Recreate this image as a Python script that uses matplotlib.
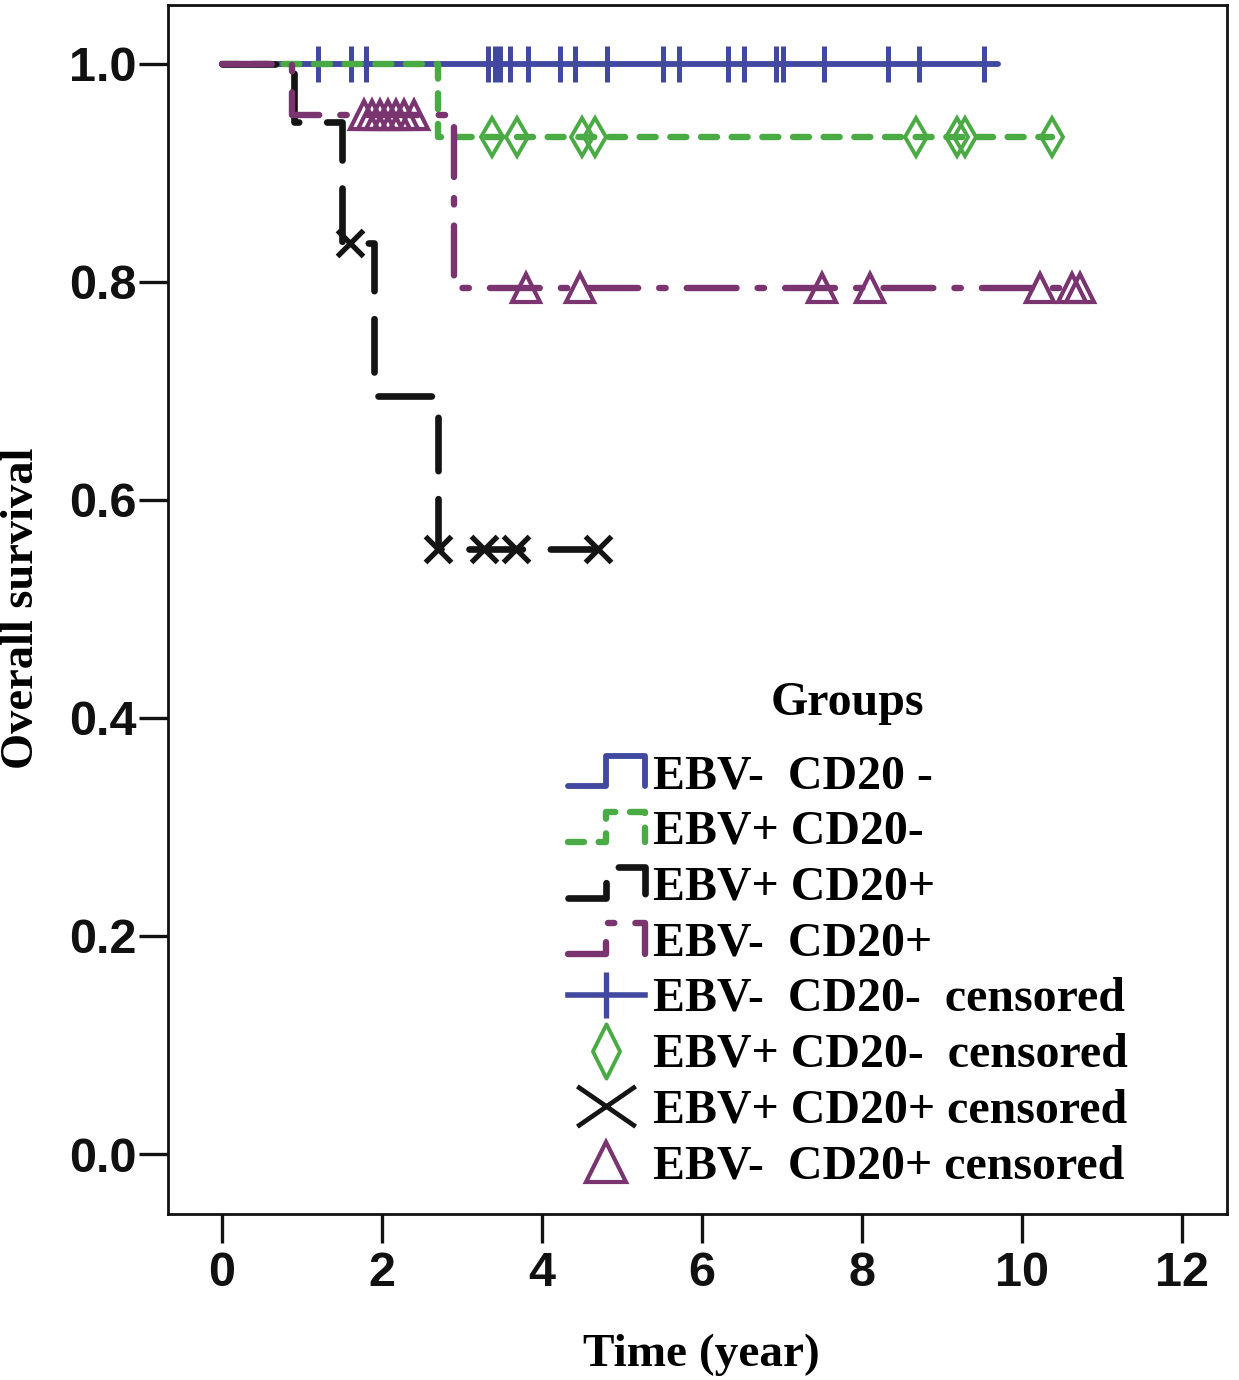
import numpy as np
import matplotlib
matplotlib.use("Agg")
import matplotlib.pyplot as plt
from matplotlib.lines import Line2D
from matplotlib.path import Path
from matplotlib.legend_handler import HandlerBase

# Kaplan-Meier steps: time of each step (year) and survival after it
blue_t = [0.0, 9.70]
blue_s = [1.000, 1.000]
green_t = [0.0, 2.70, 10.38]
green_s = [1.000, 0.933, 0.933]
black_t = [0.0, 0.90, 1.50, 1.90, 2.70, 4.70]
black_s = [1.000, 0.947, 0.836, 0.695, 0.555, 0.555]
purple_t = [0.0, 0.88, 2.90, 10.72]
purple_s = [1.000, 0.953, 0.794, 0.794]

# censored times
blue_cens = [1.20, 1.61, 1.80, 3.32, 3.41, 3.48, 3.60, 3.82, 4.22, 4.41, 4.81,
             5.51, 5.71, 6.32, 6.52, 6.93, 7.01, 7.52, 8.33, 8.71, 9.52]
green_cens = [3.38, 3.69, 4.50, 4.66, 8.68, 9.19, 9.29, 10.38]
black_cens = [1.60, 2.70, 3.28, 3.68, 4.70]
purple_cens = [1.78, 1.88, 1.98, 2.08, 2.18, 2.28, 2.40,
               3.80, 4.48, 7.50, 8.10, 10.22, 10.62, 10.72]

group_labels = ["EBV-  CD20 -", "EBV+ CD20-", "EBV+ CD20+", "EBV-  CD20+"]
cens_labels = ["EBV-  CD20-  censored", "EBV+ CD20-  censored",
               "EBV+ CD20+ censored", "EBV-  CD20+ censored"]

BLUE = "#4048a0"
GREEN = "#4aab45"
BLACK = "#141414"
PURPLE = "#7a3470"

SERIF = "Liberation Serif"
SANS = "Liberation Sans"


def surv_at(times, surv, t):
    idx = np.searchsorted(times, t, side="right") - 1
    return np.asarray(surv)[idx]


class StepHandler(HandlerBase):
    # legend icon drawn as a small survival step
    def create_artists(self, legend, orig_handle, xdescent, ydescent,
                       width, height, fontsize, trans):
        x0, y0 = -xdescent, -ydescent
        xs = [x0, x0 + 0.5 * width, x0 + 0.5 * width, x0 + width, x0 + width]
        ys = [y0, y0, y0 + height, y0 + height, y0]
        ln = Line2D(xs, ys)
        ln.update_from(orig_handle)
        ln.set_data(xs, ys)
        ln.set_transform(trans)
        return [ln]


fig = plt.figure(figsize=(12.39, 13.8), dpi=100)
ax = fig.add_axes([0.1356, 0.1203, 0.8547, 0.8761])

styles = [
    (blue_t, blue_s, BLUE, 4.2, None, 1),
    (green_t, green_s, GREEN, 4.6, (2.5, 2.3), 2),
    (black_t, black_s, BLACK, 4.8, (8.0, 4.2), 3),
    (purple_t, purple_s, PURPLE, 4.6, (7.8, 3.3, 1.0, 3.3), 4),
]
curve_handles = []
for t, s, col, lw, dash, z in styles:
    ln, = ax.step(t, s, where="post", color=col, lw=lw, zorder=z,
                  solid_capstyle="round", solid_joinstyle="round",
                  dash_capstyle="round", dash_joinstyle="round")
    if dash is not None:
        ln.set_dashes(dash)
    curve_handles.append(ln)

# censored marks
ax.plot(blue_cens, surv_at(blue_t, blue_s, blue_cens), ls="none", marker="|",
        ms=26, mew=3.6, color=BLUE, zorder=1)
ax.plot(green_cens, surv_at(green_t, green_s, green_cens), ls="none", marker="d",
        ms=19, mew=2.8, mfc="none", mec=GREEN, zorder=2)
ax.plot(black_cens, surv_at(black_t, black_s, black_cens), ls="none", marker="x",
        ms=19, mew=3.8, color=BLACK, zorder=3)
ax.plot(purple_cens, surv_at(purple_t, purple_s, purple_cens), ls="none", marker="^",
        ms=20, mew=3, mfc="none", mec=PURPLE, zorder=4)

ax.set_xlim(-0.675, 12.5625)
ax.set_ylim(-0.055, 1.054)
ax.set_xticks(range(0, 13, 2))
ax.set_yticks([0.0, 0.2, 0.4, 0.6, 0.8, 1.0])
ax.set_yticklabels(["0.0", "0.2", "0.4", "0.6", "0.8", "1.0"])
for sp in ax.spines.values():
    sp.set_linewidth(2.0)
    sp.set_color("#111111")
ax.tick_params(axis="both", direction="out", length=21, width=2.4, color="#111111")
ax.tick_params(axis="y", pad=1.5)
ax.tick_params(axis="x", pad=6)
for lab in ax.get_xticklabels() + ax.get_yticklabels():
    lab.set_fontfamily(SANS)
    lab.set_fontweight("bold")
    lab.set_fontsize(35)
    lab.set_color("#111111")

ax.set_xlabel("Time (year)", fontfamily=SERIF, fontweight="bold", fontsize=34)
ax.set_ylabel("Overall survival", fontfamily=SERIF, fontweight="bold", fontsize=33.5)
ax.xaxis.set_label_coords(0.504, -0.099)
ax.yaxis.set_label_coords(-0.118, 0.501)

# legend proxies
wide_x = Path([(-1.45, -1), (1.45, 1), (-1.45, 1), (1.45, -1)],
              [Path.MOVETO, Path.LINETO, Path.MOVETO, Path.LINETO])
diamond = Path([(0, 1), (0.5, 0), (0, -1), (-0.5, 0), (0, 1)],
               [Path.MOVETO, Path.LINETO, Path.LINETO, Path.LINETO, Path.CLOSEPOLY])
cens_handles = [
    Line2D([], [], color=BLUE, lw=4.0, marker="|", ms=33, mew=3.8),
    Line2D([], [], ls="none", marker=diamond, ms=39, mew=2.8, mfc="none", mec=GREEN),
    Line2D([], [], ls="none", marker=wide_x, ms=42, mew=3.4, mfc="none", mec=BLACK),
    Line2D([], [], ls="none", marker="^", ms=29, mew=3, mfc="none", mec=PURPLE),
]

handler_map = {h: StepHandler() for h in curve_handles}
leg = ax.legend(curve_handles + cens_handles, group_labels + cens_labels,
                handler_map=handler_map, loc="upper left",
                bbox_to_anchor=(0.4584, 0.4536), bbox_transform=fig.transFigure,
                frameon=False, borderpad=0, borderaxespad=0,
                handlelength=1.6, handleheight=0.6, handletextpad=0.17,
                labelspacing=0.245, numpoints=1,
                prop={"family": SERIF, "weight": "bold", "size": 34.5})
leg.set_zorder(10)
fig.text(847 / 1239, 1 - 703 / 1380, "Groups", ha="center", va="center",
         fontfamily=SERIF, fontweight="bold", fontsize=34.5)

fig.savefig("out.png", dpi=100)
